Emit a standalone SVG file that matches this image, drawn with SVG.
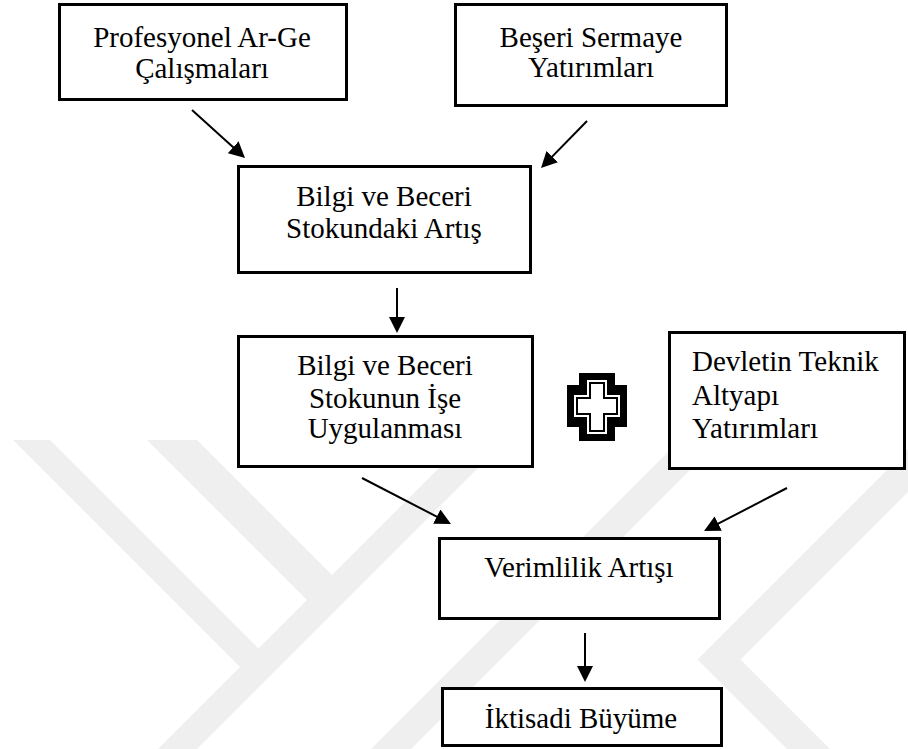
<svg xmlns="http://www.w3.org/2000/svg" width="908" height="749" viewBox="0 0 908 749">
  <style>
    .box { fill: #ffffff; stroke: #000000; stroke-width: 3; }
    .lbl { font-family: "Liberation Serif", "Times New Roman", serif; font-size: 29px; fill: #000000; }
    .mid { text-anchor: middle; }
    .wire { stroke: #000000; stroke-width: 2; fill: none; marker-end: url(#arrow); }
    .wm { fill: #efefef; }
  </style>
  <defs>
    <marker id="arrow" markerUnits="userSpaceOnUse" markerWidth="17" markerHeight="17" refX="6" refY="8" orient="auto">
      <path d="M0,0 L16,8 L0,16 z" fill="#000000"/>
    </marker>
  </defs>

  <rect width="908" height="749" fill="#ffffff"/>

  <!-- faint background emblem -->
  <g id="emblem">
    <polygon class="wm" points="467,440 506,440 197,749 158,749"/>
    <polygon class="wm" points="13,440 50,440 270,660 252,679"/>
    <polygon class="wm" points="147,440 197,440 345,588 320,613"/>
    <polygon class="wm" points="680,440 720,440 411,749 371,749"/>
    <polygon class="wm" points="908,449 697.5,659.5 787,749 830,749 740.5,659.5 908,492"/>
  </g>

  <!-- connectors -->
  <g id="connectors">
    <line class="wire" x1="192" y1="110" x2="237.6" y2="151.3"/>
    <line class="wire" x1="587" y1="121" x2="548" y2="160.9"/>
    <line class="wire" x1="397" y1="288" x2="397" y2="323"/>
    <line class="wire" x1="362" y1="478" x2="442.1" y2="519.4"/>
    <line class="wire" x1="787" y1="488" x2="712.9" y2="526.4"/>
    <line class="wire" x1="585" y1="633" x2="585" y2="672"/>
  </g>

  <g id="ar-ge">
    <rect class="box" x="59.5" y="4.5" width="287" height="95"/>
    <text class="lbl mid" x="202" y="47">Profesyonel Ar-Ge</text>
    <text class="lbl mid" x="202" y="77.5">Çalışmaları</text>
  </g>

  <g id="beseri-sermaye">
    <rect class="box" x="455.5" y="4.5" width="271" height="101"/>
    <text class="lbl mid" x="591" y="47">Beşeri Sermaye</text>
    <text class="lbl mid" x="591" y="77">Yatırımları</text>
  </g>

  <g id="stok-artis">
    <rect class="box" x="238.5" y="166.5" width="292" height="106"/>
    <text class="lbl mid" x="384" y="206">Bilgi ve Beceri</text>
    <text class="lbl mid" x="384" y="238">Stokundaki Artış</text>
  </g>

  <g id="stok-uygulama">
    <rect class="box" x="238.5" y="336.5" width="294" height="130"/>
    <text class="lbl mid" x="385" y="375">Bilgi ve Beceri</text>
    <text class="lbl mid" x="385" y="408">Stokunun İşe</text>
    <text class="lbl mid" x="385" y="438">Uygulanması</text>
  </g>

  <!-- plus sign between the two inputs -->
  <g id="plus" transform="translate(567,373)">
    <polygon fill="#000000" points="12,0 48,0 48,12 60,12 60,54 48,54 48,68 12,68 12,54 0,54 0,12 12,12"/>
    <polygon fill="#ffffff" points="20,7 40,7 40,22 53,22 53,44 40,44 40,61 20,61 20,44 7,44 7,22 20,22"/>
    <polygon fill="#000000" points="22,9 38,9 38,24 51,24 51,42 38,42 38,59 22,59 22,42 9,42 9,24 22,24"/>
    <polygon fill="#ffffff" points="24,11 36,11 36,26 49,26 49,40 36,40 36,57 24,57 24,40 11,40 11,26 24,26"/>
  </g>

  <g id="devlet-altyapi">
    <rect class="box" x="669.5" y="332.5" width="235" height="136"/>
    <text class="lbl" x="692" y="371">Devletin Teknik</text>
    <text class="lbl" x="692" y="405">Altyapı</text>
    <text class="lbl" x="692" y="438">Yatırımları</text>
  </g>

  <g id="verimlilik">
    <rect class="box" x="439.5" y="538.5" width="280" height="80"/>
    <text class="lbl mid" x="579" y="577">Verimlilik Artışı</text>
  </g>

  <g id="buyume">
    <rect class="box" x="442.5" y="688.5" width="279" height="57"/>
    <text class="lbl mid" x="581" y="728">İktisadi Büyüme</text>
  </g>
</svg>
